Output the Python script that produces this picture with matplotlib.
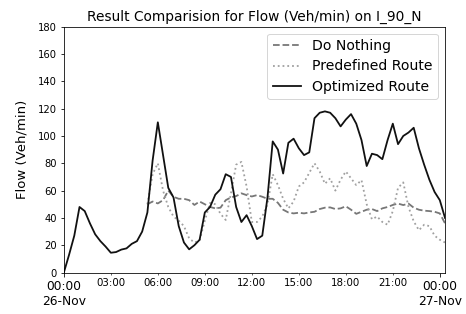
import numpy as np
import pandas as pd
import matplotlib
matplotlib.use('Agg')
import matplotlib.pyplot as plt
import matplotlib.dates as mdates

# 20-minute samples, 26-Nov 00:00 -> 27-Nov 00:20
times = pd.date_range('2018-11-26 00:00', periods=74, freq='20min')

optimized = [0, 13, 27, 48, 45, 36, 28, 23, 19, 14.5,
             15, 16.8, 17.7, 21, 23, 30, 44, 82, 110, 86,
             62, 55, 34, 22, 17, 20, 24, 44, 48, 57,
             61, 72, 70, 48, 37, 42, 34, 24.5, 27, 55,
             96, 90, 72.5, 95, 98, 91, 86, 88, 113, 117,
             118, 117, 113, 107, 112, 116, 109, 97, 78, 87,
             86, 83, 97, 109, 94, 100, 102.5, 106, 91, 79,
             68, 59, 53, 40]

do_nothing = [np.nan] * 16 + [
    50, 52, 50.6, 53, 60, 55.5, 54, 54, 53, 49.5,
    52, 50, 48, 47, 47.5, 53, 55, 56, 58, 56.7,
    55.7, 56.7, 55.5, 54, 54, 51, 46, 44, 43.3, 43.8,
    43.3, 44, 44.5, 46.5, 47.5, 47.7, 46.5, 47, 48.5, 46,
    43, 44.5, 46, 46.5, 45, 47, 48, 49.5, 50.5, 49.4,
    50.5, 47.5, 46, 45.3, 45, 44.5, 43.3, 36]

predefined = [np.nan] * 16 + [
    50, 72, 80, 60, 48, 41, 38, 34, 25, 22,
    23.5, 38, 51, 50, 43, 38.5, 58, 79, 81, 63,
    37, 37, 41, 50, 72, 64, 54, 47, 52, 63,
    66, 73, 80, 74, 65, 69, 60, 68, 74, 69,
    64, 67.7, 50, 39, 41, 37, 35, 45, 62, 66,
    48, 37.5, 31, 35, 34, 27, 24, 22]

fig = plt.figure(figsize=(466 / 72, 314 / 72), dpi=72)
ax = fig.add_axes([0.137, 0.132, 0.818, 0.783])

kw = dict(lw=1.8, solid_joinstyle='round', dash_joinstyle='round')
ax.plot(times, do_nothing, color='#777777', linestyle='--', label='Do Nothing', **kw)
ax.plot(times, predefined, color='#a0a0a0', linestyle=':', label='Predefined Route', **kw)
ax.plot(times, optimized, color='#111111', linestyle='-', label='Optimized Route', **kw)

ax.set_xlim(times[0], times[-1])
ax.set_ylim(0, 180)
ax.set_yticks(range(0, 181, 20))

ax.xaxis.set_major_locator(mdates.DayLocator())
ax.xaxis.set_major_formatter(mdates.DateFormatter('%H:%M\n%d-%b'))
ax.xaxis.set_minor_locator(mdates.HourLocator(byhour=range(3, 24, 3)))
ax.xaxis.set_minor_formatter(mdates.DateFormatter('%H:%M'))
ax.tick_params(axis='x', which='major', labelsize=12.3)
ax.tick_params(axis='x', which='minor', labelsize=10.3)
ax.tick_params(axis='y', labelsize=10)

ax.set_ylabel('Flow (Veh/min)', fontsize=13.3, labelpad=9)
ax.set_title('Result Comparision for Flow (Veh/min) on I_90_N', fontsize=13.7)
ax.legend(loc='upper right', fontsize=14, labelspacing=0.44)

fig.savefig('out.png', dpi=72)
